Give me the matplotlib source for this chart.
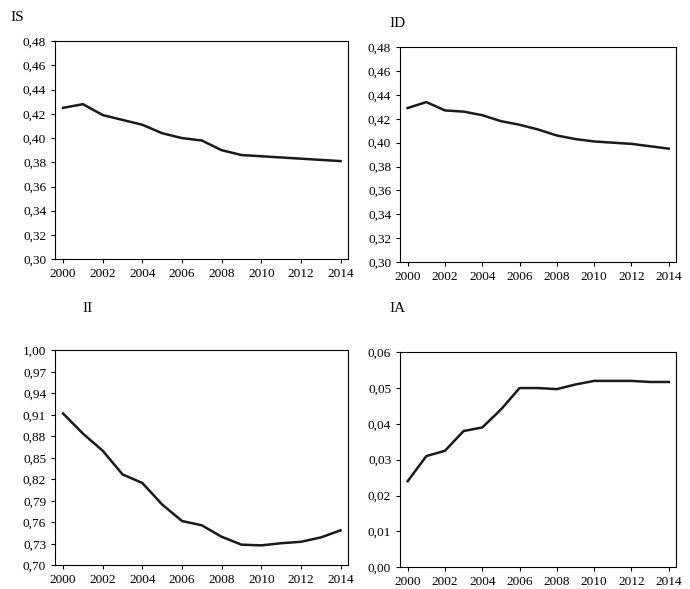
import matplotlib
matplotlib.use("Agg")
from matplotlib import pyplot as plt
from matplotlib.ticker import FuncFormatter
import numpy as np

plt.rcParams['font.family'] = ['Liberation Serif', 'DejaVu Serif']
plt.rcParams['font.size'] = 9.5

years = list(range(2000, 2015))
IS = [0.425, 0.428, 0.419, 0.415, 0.411, 0.404, 0.400, 0.398, 0.390, 0.386, 0.385, 0.384, 0.383, 0.382, 0.381]
ID = [0.429, 0.434, 0.427, 0.426, 0.423, 0.418, 0.415, 0.411, 0.406, 0.403, 0.401, 0.400, 0.399, 0.397, 0.395]
II = [0.912, 0.884, 0.860, 0.827, 0.815, 0.785, 0.762, 0.756, 0.740, 0.729, 0.728, 0.731, 0.733, 0.739, 0.749]
IA = [0.024, 0.031, 0.0325, 0.038, 0.039, 0.044, 0.050, 0.050, 0.0497, 0.051, 0.052, 0.052, 0.052, 0.0517, 0.0517]

panels = [
    ("IS", IS, np.arange(0.30, 0.481, 0.02), [0.08, 0.56, 0.425, 0.37], (0.015, 0.965)),
    ("ID", ID, np.arange(0.30, 0.481, 0.02), [0.58, 0.555, 0.40, 0.365], (0.565, 0.955)),
    ("II", II, np.arange(0.70, 1.001, 0.03), [0.08, 0.04, 0.425, 0.365], (0.12, 0.47)),
    ("IA", IA, np.arange(0.0, 0.0601, 0.01), [0.58, 0.037, 0.40, 0.365], (0.565, 0.47)),
]

fig = plt.figure(figsize=(6.9, 5.89), dpi=100)
for name, vals, yt, rect, tpos in panels:
    ax = fig.add_axes(rect)
    ax.plot(years, vals, color="#1a1a1a", lw=1.8)
    ax.set_ylim(yt[0], yt[-1])
    ax.set_yticks(yt)
    ax.yaxis.set_major_formatter(FuncFormatter(lambda v, p: ("%.2f" % v).replace(".", ",")))
    ax.set_xlim(1999.6, 2014.4)
    ax.set_xticks(range(2000, 2015, 2))
    ax.tick_params(direction="out", length=3)
    fig.text(tpos[0], tpos[1], name, fontsize=11)

fig.savefig("out.png", dpi=100)
plt.close()
